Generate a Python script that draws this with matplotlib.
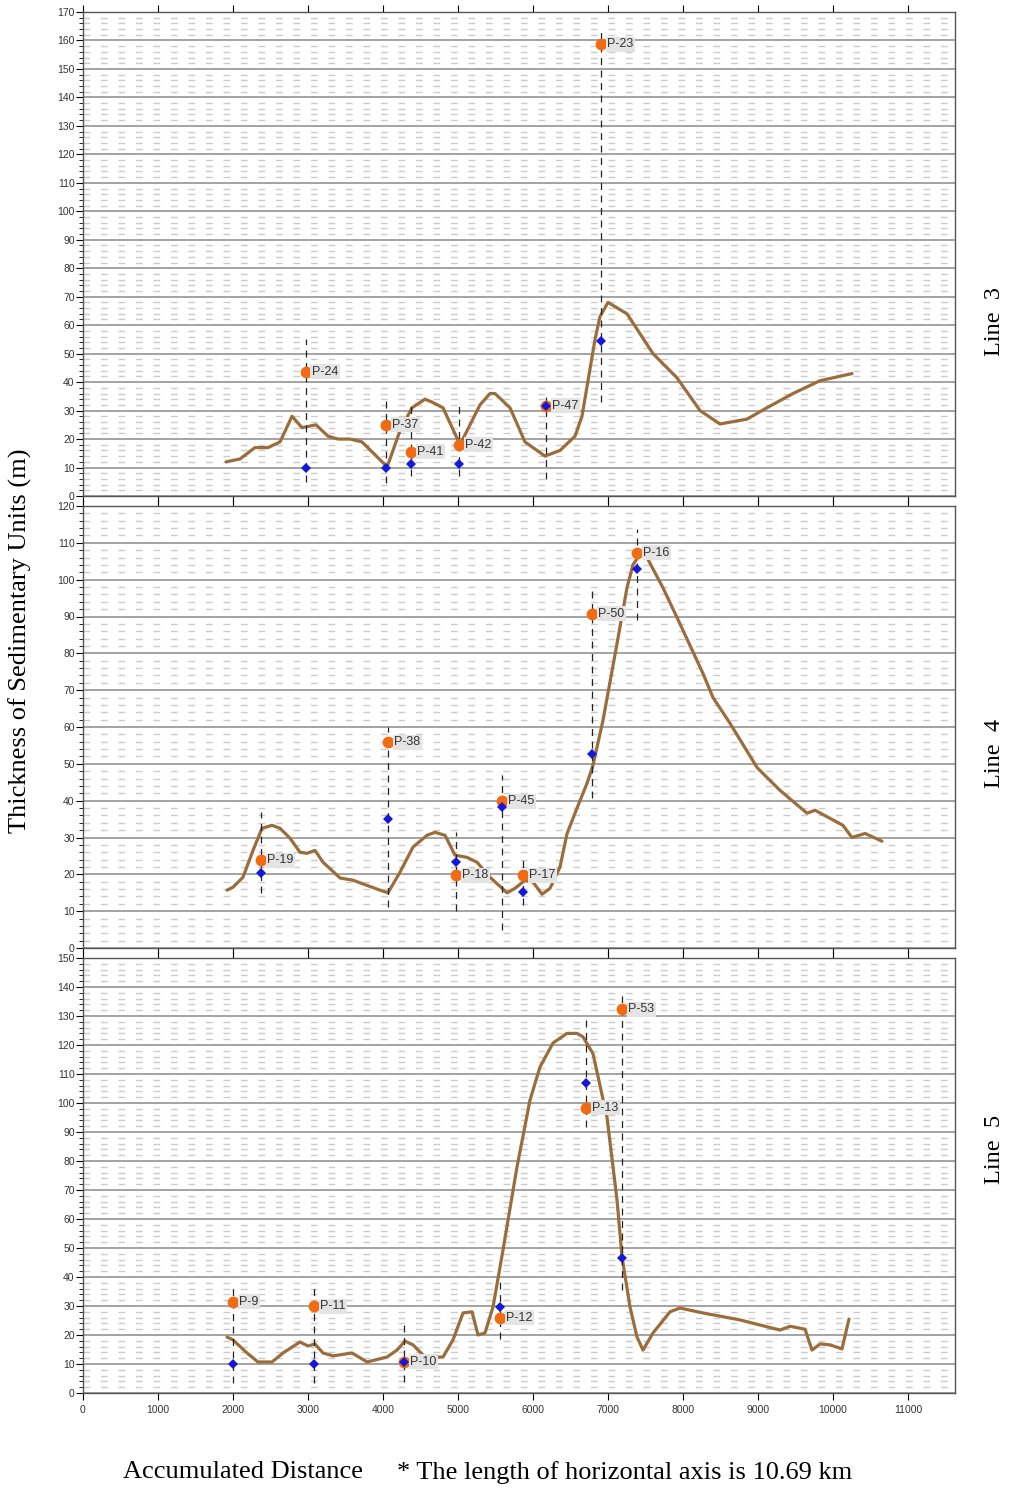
import numpy as np
import matplotlib
matplotlib.use("Agg")
from matplotlib import pyplot as plt
from matplotlib.ticker import MultipleLocator

plt.rcParams['lines.scale_dashes'] = False

# ---- Line 3 profile
line3_dist = [1907, 2093, 2293, 2467, 2627, 2787, 2920, 3107, 3267, 3400, 3560, 3720,
              4027, 4053, 4227, 4387, 4560, 4653, 4800, 5027, 5160, 5293, 5427, 5493,
              5693, 5893, 6160, 6360, 6560, 6653, 6827, 6893, 7000, 7253, 7600, 7920,
              8227, 8493, 8853, 9120, 9467, 9827, 10253]
line3_thick = [12, 13, 17, 17, 19, 28, 24, 25, 21, 20, 20, 19,
               11, 10, 23, 31, 34, 33, 31, 18, 25, 32, 36, 36,
               31, 19, 14, 16, 21, 28, 55, 63, 68, 64, 50, 41.5,
               30, 25.3, 27, 31, 36, 40.5, 43]

# ---- Line 4 profile
line4_dist = [1920, 2000, 2133, 2267, 2387, 2520, 2627, 2760, 2893, 2987, 3093, 3200,
              3427, 3600, 3787, 3960, 4067, 4227, 4400, 4587, 4693, 4827, 4960, 5120,
              5253, 5427, 5653, 5760, 5893, 6000, 6120, 6227, 6360, 6453, 6587, 6720,
              6800, 6933, 7120, 7253, 7333, 7427, 7520, 7733, 7960, 8267, 8400, 8627,
              8987, 9293, 9653, 9760, 9960, 10133, 10253, 10427, 10653]
line4_thick = [15.7, 16.5, 19.2, 26.5, 32.5, 33.3, 32.5, 29.8, 26, 25.7, 26.5, 23.3,
               19, 18.4, 17, 15.7, 15, 20.6, 27.4, 30.6, 31.4, 30.6, 25.2, 24.6,
               23.3, 19.2, 15, 16.2, 18.4, 17.9, 14.6, 16.2, 22, 31, 38, 44.7,
               49.6, 61.8, 82.6, 97.8, 104, 107, 106, 97.8, 88, 74.5, 68, 61,
               49, 42.8, 36.6, 37.4, 35.2, 33.3, 30, 31.1, 29]

# ---- Line 5 profile
line5_dist = [1920, 2000, 2187, 2333, 2520, 2667, 2893, 3000, 3093, 3200, 3333, 3587,
              3787, 4053, 4187, 4293, 4400, 4560, 4800, 4933, 5067, 5187, 5267, 5360,
              5467, 5600, 5787, 5960, 6093, 6267, 6453, 6587, 6667, 6800, 6987, 7120,
              7187, 7293, 7387, 7467, 7600, 7827, 7960, 8267, 8760, 9293, 9427, 9627,
              9720, 9827, 9960, 10120, 10213]
line5_thick = [19.3, 18.3, 13.8, 10.7, 10.7, 13.8, 17.6, 16.2, 16.9, 13.8, 12.8, 13.8,
               10.7, 12.4, 14.8, 17.9, 16.6, 12.4, 12.4, 18.3, 27.6, 28, 20, 20.7,
               29.7, 49.3, 78, 101, 112.4, 120.7, 124, 124, 122.8, 117, 95, 66.6,
               47, 29.7, 19.3, 14.8, 20.7, 28, 29.3, 27.6, 25.2, 21.7, 23, 22,
               14.8, 16.9, 16.6, 15.2, 25.5]

# ---- wells: name, distance, orange value, blue value, dashed range
line3_wells = ["P-24", "P-37", "P-41", "P-42", "P-47", "P-23"]
line3_well_x = [2970, 4040, 4373, 5013, 6173, 6907]
line3_orange = [43.6, 25, 15.5, 18, 31.7, 158.7]
line3_blue = [10, 10, 11.3, 11.3, 31.7, 54.6]
line3_dash_lo = [5, 4.5, 7, 7, 6, 33]
line3_dash_hi = [55, 34.5, 33, 33, 36, 163]

line4_wells = ["P-19", "P-38", "P-18", "P-45", "P-17", "P-50", "P-16"]
line4_well_x = [2373, 4067, 4973, 5587, 5867, 6787, 7387]
line4_orange = [23.8, 55.8, 19.8, 39.8, 19.8, 90.7, 107.3]
line4_blue = [20.3, 35, 23.3, 38.2, 15.2, 52.8, 103]
line4_dash_lo = [15, 11, 10, 5, 11.6, 40.6, 89]
line4_dash_hi = [37, 60, 31.4, 47, 24.6, 98, 113.8]

line5_wells = ["P-9", "P-11", "P-10", "P-12", "P-13", "P-53"]
line5_well_x = [2000, 3080, 4280, 5560, 6707, 7187]
line5_orange = [31.4, 30, 10.7, 26, 98.3, 132.4]
line5_blue = [10, 10, 10.7, 29.7, 107, 46.6]
line5_dash_lo = [3.4, 3.4, 3.8, 18.5, 91.7, 35.5]
line5_dash_hi = [38, 38, 24.5, 40, 129.7, 137]

panels = [
    ("Line  3", 170, line3_dist, line3_thick, line3_wells, line3_well_x,
     line3_orange, line3_blue, line3_dash_lo, line3_dash_hi),
    ("Line  4", 120, line4_dist, line4_thick, line4_wells, line4_well_x,
     line4_orange, line4_blue, line4_dash_lo, line4_dash_hi),
    ("Line  5", 150, line5_dist, line5_thick, line5_wells, line5_well_x,
     line5_orange, line5_blue, line5_dash_lo, line5_dash_hi),
]
label_pos = [0.36, 0.44, 0.56]

W, H = 1014, 1489
fig = plt.figure(figsize=(W / 100, H / 100), dpi=100)

# axes boxes in pixels (top, bottom)
boxes = [(12, 496), (506, 948), (958, 1393)]
left_px, right_px = 83, 955
xmax = (right_px - left_px) / 0.075

sans = "Liberation Sans"
serif = "Liberation Serif"

for i, (box, panel) in enumerate(zip(boxes, panels)):
    name, ytop, dist, thick, wells, wx, wor, wbl, dlo, dhi = panel
    top, bot = box
    ax = fig.add_axes([left_px / W, 1 - bot / H, (right_px - left_px) / W, (bot - top) / H])
    ax.set_xlim(0, xmax)
    ax.set_ylim(0, ytop)

    ax.yaxis.set_major_locator(MultipleLocator(10))
    ax.yaxis.set_minor_locator(MultipleLocator(2))
    ax.xaxis.set_major_locator(MultipleLocator(1000))
    ax.grid(which='minor', axis='y', color='#cbcbcb', linewidth=1.0,
            linestyle=(0, (4.8, 7.8)), zorder=0)
    ax.grid(which='major', axis='y', color='#8a8a8a', linewidth=1.1, zorder=0.5)
    ax.set_axisbelow(True)

    ax.tick_params(axis='y', which='major', direction='out', length=5, width=0.8,
                   labelsize=7.5, labelcolor='#333333', pad=1)
    ax.tick_params(axis='y', which='minor', direction='out', length=3, width=0.6)
    ax.tick_params(axis='x', which='major', direction='out', length=5, width=0.8,
                   top=True, bottom=True, labelsize=7.5, labelcolor='#333333',
                   labelbottom=(i == 2))
    for lab in ax.get_xticklabels() + ax.get_yticklabels():
        lab.set_fontfamily(sans)
    for s in ax.spines.values():
        s.set_color('#555555')
        s.set_linewidth(1.0)

    ax.plot(dist, thick, color='#9b6d3c', linewidth=2.3, zorder=3,
            solid_capstyle='round', solid_joinstyle='round')

    for k in range(len(wells)):
        ax.plot([wx[k], wx[k]], [dlo[k], dhi[k]], color='#222222', linewidth=0.9,
                linestyle=(0, (5, 4)), zorder=4)
        ax.plot(wx[k], wor[k], 'o', color='#f26b12', markersize=8.5,
                markeredgewidth=0, zorder=5)
        ax.plot(wx[k], wbl[k], 'D', color='#1518d6', markersize=5.5,
                markeredgewidth=0, zorder=6)
        ax.annotate(wells[k], (wx[k], wor[k]), xytext=(4.5, 0), textcoords='offset points',
                    fontsize=9, family=sans, color='#333333', va='center', ha='left',
                    zorder=7,
                    bbox=dict(boxstyle='square,pad=0.12', facecolor='#e4e4e4',
                              edgecolor='none'))

    ax.text(1.045, label_pos[i], name, transform=ax.transAxes, rotation=90,
            ha='center', va='center', fontsize=17.5, family=serif)

fig.text(0.02, 0.57, "Thickness of Sedimentary Units (m)", rotation=90,
         ha='center', va='center', fontsize=19, family=serif)
fig.text(0.121, 0.0114, "Accumulated Distance", ha='left', va='center',
         fontsize=19, family=serif)
fig.text(0.392, 0.0114, "* The length of horizontal axis is 10.69 km", ha='left',
         va='center', fontsize=19, family=serif)

fig.savefig("out.png", dpi=100)
